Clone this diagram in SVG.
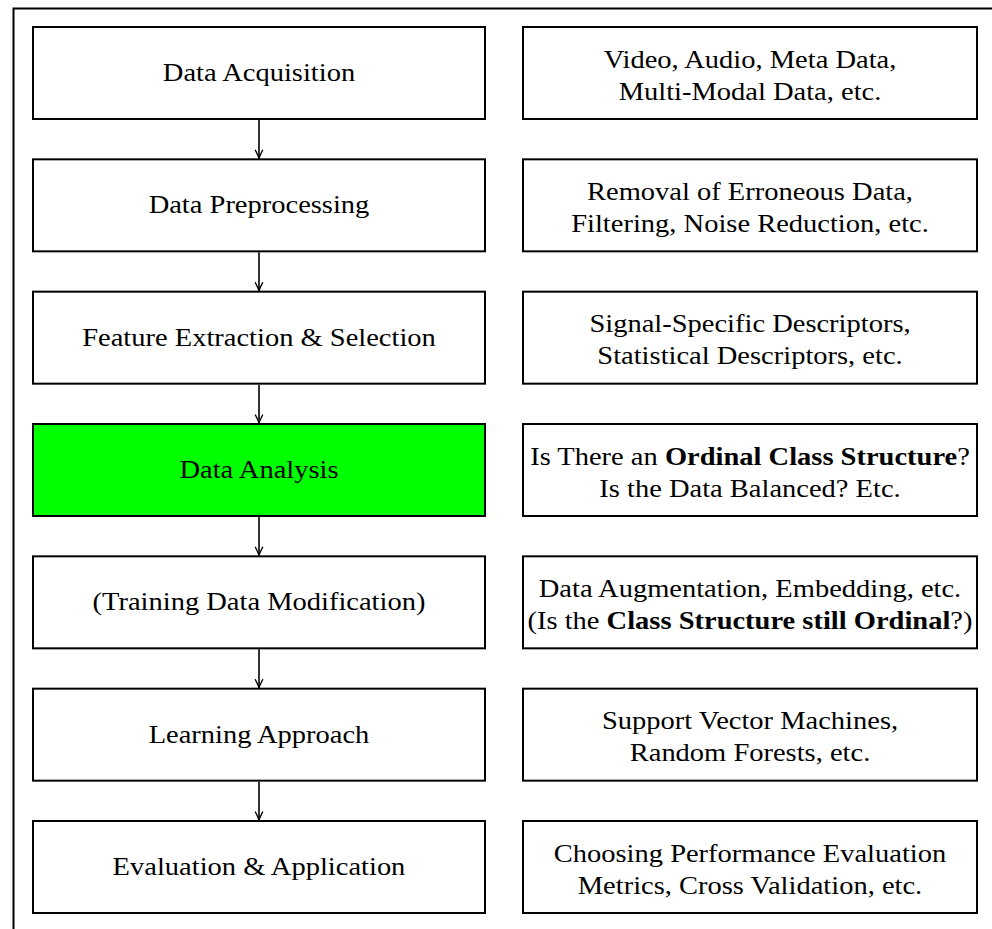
<svg xmlns="http://www.w3.org/2000/svg" width="992" height="929" viewBox="0 0 992 929">
  <style>
    .box { fill: #ffffff; stroke: #000000; stroke-width: 2; }
    .hl { fill: #00ff00; }
    .t { font-family: "Liberation Serif", "Times New Roman", serif; font-size: 25px; fill: #000000; text-anchor: middle; }
    .b { font-weight: bold; }
    .edge { stroke: #000000; stroke-width: 1.6; fill: none; marker-end: url(#tip); }
    .frame { stroke: #000000; stroke-width: 2; fill: none; }
  </style>
  <defs>
    <marker id="tip" markerUnits="userSpaceOnUse" viewBox="-10 -5 11 10" refX="0" refY="0" markerWidth="11" markerHeight="10" orient="auto">
      <path d="M -8 -3.6 Q -2.5 -0.8 0 0 Q -2.5 0.8 -8 3.6" fill="none" stroke="#000000" stroke-width="1.4" stroke-linecap="round"/>
    </marker>
  </defs>

  <!-- outer frame (runs off the right and bottom edges) -->
  <path class="frame" d="M 13.5 929 V 8.5 H 992"/>

  <!-- pipeline steps -->
  <g id="step-acquisition">
    <rect class="box" x="33" y="27" width="452" height="92"/>
    <text class="t" transform="translate(259 81) scale(1.14 1)">Data Acquisition</text>
  </g>
  <g id="step-preprocessing">
    <rect class="box" x="33" y="159.33" width="452" height="92"/>
    <text class="t" transform="translate(259 213.3) scale(1.14 1)">Data Preprocessing</text>
  </g>
  <g id="step-features">
    <rect class="box" x="33" y="291.67" width="452" height="92"/>
    <text class="t" transform="translate(259 345.7) scale(1.14 1)">Feature Extraction &amp; Selection</text>
  </g>
  <g id="step-analysis">
    <rect class="box hl" x="33" y="424" width="452" height="92"/>
    <text class="t" transform="translate(259 478) scale(1.14 1)">Data Analysis</text>
  </g>
  <g id="step-modification">
    <rect class="box" x="33" y="556.33" width="452" height="92"/>
    <text class="t" transform="translate(259 610.3) scale(1.14 1)">(Training Data Modification)</text>
  </g>
  <g id="step-learning">
    <rect class="box" x="33" y="688.67" width="452" height="92"/>
    <text class="t" transform="translate(259 742.7) scale(1.14 1)">Learning Approach</text>
  </g>
  <g id="step-evaluation">
    <rect class="box" x="33" y="821" width="452" height="92"/>
    <text class="t" transform="translate(259 875) scale(1.14 1)">Evaluation &amp; Application</text>
  </g>

  <!-- notes for each step -->
  <g id="note-acquisition">
    <rect class="box" x="523" y="27" width="454" height="92"/>
    <text class="t" transform="translate(750 67.5) scale(1.14 1)">Video, Audio, Meta Data,</text>
    <text class="t" transform="translate(750 99.5) scale(1.14 1)">Multi-Modal Data, etc.</text>
  </g>
  <g id="note-preprocessing">
    <rect class="box" x="523" y="159.33" width="454" height="92"/>
    <text class="t" transform="translate(750 199.8) scale(1.14 1)">Removal of Erroneous Data,</text>
    <text class="t" transform="translate(750 231.8) scale(1.14 1)">Filtering, Noise Reduction, etc.</text>
  </g>
  <g id="note-features">
    <rect class="box" x="523" y="291.67" width="454" height="92"/>
    <text class="t" transform="translate(750 332.2) scale(1.14 1)">Signal-Specific Descriptors,</text>
    <text class="t" transform="translate(750 364.2) scale(1.14 1)">Statistical Descriptors, etc.</text>
  </g>
  <g id="note-analysis">
    <rect class="box" x="523" y="424" width="454" height="92"/>
    <text class="t" transform="translate(750 464.5) scale(1.14 1)">Is There an <tspan class="b">Ordinal Class Structure</tspan>?</text>
    <text class="t" transform="translate(750 496.5) scale(1.14 1)">Is the Data Balanced? Etc.</text>
  </g>
  <g id="note-modification">
    <rect class="box" x="523" y="556.33" width="454" height="92"/>
    <text class="t" transform="translate(750 596.8) scale(1.14 1)">Data Augmentation, Embedding, etc.</text>
    <text class="t" transform="translate(750 628.8) scale(1.14 1)">(Is the <tspan class="b">Class Structure still Ordinal</tspan>?)</text>
  </g>
  <g id="note-learning">
    <rect class="box" x="523" y="688.67" width="454" height="92"/>
    <text class="t" transform="translate(750 729.2) scale(1.14 1)">Support Vector Machines,</text>
    <text class="t" transform="translate(750 761.2) scale(1.14 1)">Random Forests, etc.</text>
  </g>
  <g id="note-evaluation">
    <rect class="box" x="523" y="821" width="454" height="92"/>
    <text class="t" transform="translate(750 861.5) scale(1.14 1)">Choosing Performance Evaluation</text>
    <text class="t" transform="translate(750 893.5) scale(1.14 1)">Metrics, Cross Validation, etc.</text>
  </g>

  <!-- flow arrows between steps -->
  <g id="connectors">
    <line class="edge" x1="259" y1="120" x2="259" y2="158.3"/>
    <line class="edge" x1="259" y1="252.3" x2="259" y2="290.7"/>
    <line class="edge" x1="259" y1="384.7" x2="259" y2="423"/>
    <line class="edge" x1="259" y1="517" x2="259" y2="555.3"/>
    <line class="edge" x1="259" y1="649.3" x2="259" y2="687.7"/>
    <line class="edge" x1="259" y1="781.7" x2="259" y2="820"/>
  </g>
</svg>
